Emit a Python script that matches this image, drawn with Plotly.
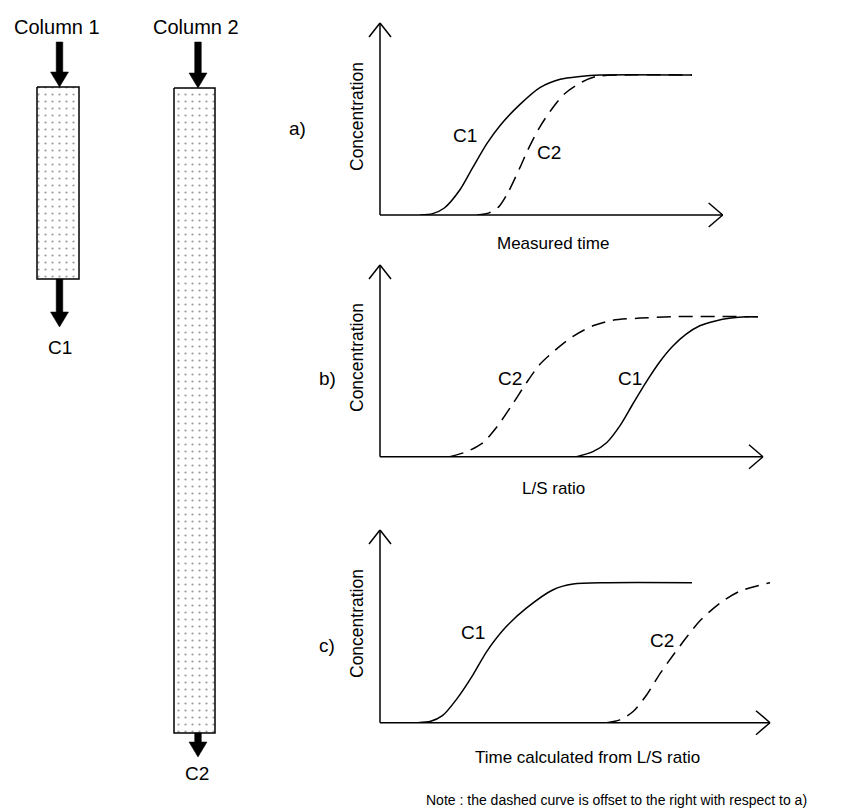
import plotly.graph_objects as go

# ---------------- data (abstract units: x = time/ratio units, y = relative concentration) ----
# Panel a) : concentration vs measured time
a_c1_x = [1.03, 1.35, 1.65, 2.05, 2.38, 2.74, 3.08, 3.59, 4.10, 4.62, 5.13, 5.64, 8.0]
a_c1_y = [0.0, 0.01, 0.05, 0.18, 0.34, 0.51, 0.64, 0.79, 0.91, 0.97, 0.99, 1.0, 1.0]
a_c2_x = [2.49, 2.80, 3.05, 3.30, 3.59, 3.80, 4.10, 4.44, 4.75, 5.18, 5.56, 6.15, 8.0]
a_c2_y = [0.0, 0.015, 0.06, 0.17, 0.34, 0.47, 0.63, 0.77, 0.87, 0.95, 0.99, 1.0, 1.0]

# Panel b) : concentration vs L/S ratio
b_c2_x = [1.79, 2.22, 2.64, 2.99, 3.41, 3.76, 4.10, 4.53, 4.95, 5.46, 5.97, 6.67, 7.51, 9.69]
b_c2_y = [0.0, 0.036, 0.10, 0.21, 0.38, 0.53, 0.66, 0.77, 0.86, 0.935, 0.975, 0.99, 1.0, 1.0]
b_c1_x = [5.04, 5.46, 5.81, 6.15, 6.49, 6.84, 7.18, 7.51, 7.85, 8.20, 8.60, 9.00, 9.40, 9.69]
b_c1_y = [0.0, 0.036, 0.10, 0.22, 0.38, 0.54, 0.68, 0.79, 0.875, 0.935, 0.97, 0.99, 1.0, 1.0]

# Panel c) : concentration vs time calculated from L/S ratio
c_c1_x = [0.97, 1.30, 1.60, 1.97, 2.38, 2.74, 3.25, 3.76, 4.44, 4.95, 5.82, 8.0]
c_c1_y = [0.0, 0.01, 0.05, 0.17, 0.34, 0.51, 0.69, 0.82, 0.95, 0.99, 1.0, 1.0]
c_c2_x = [5.81, 6.15, 6.49, 6.84, 7.18, 7.51, 7.86, 8.21, 8.72, 9.23, 10.0]
c_c2_y = [0.0, 0.02, 0.08, 0.20, 0.35, 0.48, 0.61, 0.73, 0.855, 0.94, 1.0]

panel_letters = ["a)", "b)", "c)"]
x_titles = ["Measured time", "L/S ratio", "Time calculated from L/S ratio"]
y_title = "Concentration"
column_names = ["Column 1", "Column 2"]
outlet_names = ["C1", "C2"]
note_text = "Note : the dashed curve is offset to the right with respect to a)"

# ---------------- layout constants (pixels) ----------------
W, H = 842, 812
FONT = "Liberation Sans, Arial, sans-serif"
UX = 39.0    # pixels per x unit
UY = 140.0   # pixels per y unit
# (origin x, origin y, x-arrow tip, y-arrow tip)
panels = [(380, 215, 722.7, 23), (380, 456.7, 763, 265), (380, 722.7, 770, 530)]

fig = go.Figure()

def px_dom_x(a, b):
    return [a / W, b / W]

def px_dom_y(top, bottom):
    return [1 - bottom / H, 1 - top / H]

line_solid = dict(color="black", width=1.5, shape="spline", smoothing=0.8)
line_dash = dict(color="black", width=1.5, shape="spline", smoothing=0.8, dash="14px,8px")

series = [
    ((a_c1_x, a_c1_y), (a_c2_x, a_c2_y)),
    ((b_c1_x, b_c1_y), (b_c2_x, b_c2_y)),
    ((c_c1_x, c_c1_y), (c_c2_x, c_c2_y)),
]

layout_axes = {}
for i, ((ox, oy, xt, yt), (s1, s2)) in enumerate(zip(panels, series)):
    n = "" if i == 0 else str(i + 1)
    xa, ya = "x" + n, "y" + n
    fig.add_trace(go.Scatter(x=s1[0], y=s1[1], xaxis=xa, yaxis=ya, mode="lines",
                             line=line_solid, cliponaxis=False, hoverinfo="skip", showlegend=False))
    fig.add_trace(go.Scatter(x=s2[0], y=s2[1], xaxis=xa, yaxis=ya, mode="lines",
                             line=line_dash, cliponaxis=False, hoverinfo="skip", showlegend=False))
    layout_axes["xaxis" + n] = dict(domain=px_dom_x(ox, xt), range=[0, (xt - ox) / UX],
                                    visible=False, anchor=ya, fixedrange=True)
    layout_axes["yaxis" + n] = dict(domain=px_dom_y(yt, oy), range=[0, (oy - yt) / UY],
                                    visible=False, anchor=xa, fixedrange=True)

# overlay pixel axes for the schematic drawing
layout_axes["xaxis4"] = dict(domain=[0, 1], range=[0, W], visible=False, anchor="y4", fixedrange=True)
layout_axes["yaxis4"] = dict(domain=[0, 1], range=[H, 0], visible=False, anchor="x4", fixedrange=True)

# columns (dotted packing)
columns = [(37, 79, 87, 279), (174, 215, 88, 733)]
for (l, r, t, b) in columns:
    fig.add_trace(go.Scatter(
        x=[l, r, r, l, l], y=[t, t, b, b, t], xaxis="x4", yaxis="y4",
        mode="lines", fill="toself", fillcolor="white",
        fillpattern=dict(shape=".", size=7, solidity=0.08, fgcolor="#333", bgcolor="white"),
        line=dict(color="black", width=1.5), hoverinfo="skip", showlegend=False))

shapes = []
def seg(x0, y0, x1, y1, w=1.5):
    shapes.append(dict(type="line", xref="x4", yref="y4", x0=x0, y0=y0, x1=x1, y1=y1,
                       line=dict(color="black", width=w)))

for (ox, oy, xt, yt) in panels:
    seg(ox, oy, xt, oy)
    seg(ox, oy, ox, yt)
    seg(xt - 14, oy - 12, xt, oy)
    seg(xt - 14, oy + 12, xt, oy)
    seg(ox - 11, yt + 14, ox, yt)
    seg(ox + 11, yt + 14, ox, yt)

def block_arrow(cx, y0, y1, head=15, hw=9, sw=3.3):
    yh = y1 - head
    path = (f"M{cx-sw},{y0} L{cx+sw},{y0} L{cx+sw},{yh} L{cx+hw},{yh} L{cx},{y1} "
            f"L{cx-hw},{yh} L{cx-sw},{yh} Z")
    shapes.append(dict(type="path", xref="x4", yref="y4", path=path,
                       fillcolor="black", line=dict(color="black", width=0.5)))

block_arrow(59.5, 42, 87)
block_arrow(198, 42, 88)
block_arrow(59.5, 279, 327)
block_arrow(198, 733, 757)

annotations = []
def txt(x, y, s, size, angle=0):
    annotations.append(dict(x=x, y=y, xref="x4", yref="y4", text=s, showarrow=False,
                            textangle=angle, font=dict(family=FONT, size=size, color="black"),
                            xanchor="center", yanchor="middle"))

txt(57, 27, column_names[0], 20)
txt(196, 27, column_names[1], 20)
txt(59.5, 347, outlet_names[0], 19)
txt(197, 773, outlet_names[1], 19)

txt(297, 128, panel_letters[0], 19)
txt(327, 378, panel_letters[1], 19)
txt(327, 645, panel_letters[2], 19)

txt(357, 117, y_title, 17.5, -90)
txt(357, 358, y_title, 17.5, -90)
txt(357, 624, y_title, 17.5, -90)

txt(553, 243, x_titles[0], 17)
txt(553, 488, x_titles[1], 17)
txt(587, 757, x_titles[2], 17)

txt(465, 135, "C1", 19)
txt(549, 152, "C2", 19)
txt(510, 378, "C2", 19)
txt(630, 378, "C1", 19)
txt(473, 632, "C1", 19)
txt(662, 640, "C2", 19)

txt(616, 800, note_text, 14)

fig.update_layout(
    width=W, height=H, margin=dict(l=0, r=0, t=0, b=0),
    paper_bgcolor="white", plot_bgcolor="rgba(0,0,0,0)",
    shapes=shapes, annotations=annotations, showlegend=False,
    **layout_axes,
)

fig.write_html("out.html", config={"displayModeBar": False},
               post_script="document.body.style.margin='0px';")
